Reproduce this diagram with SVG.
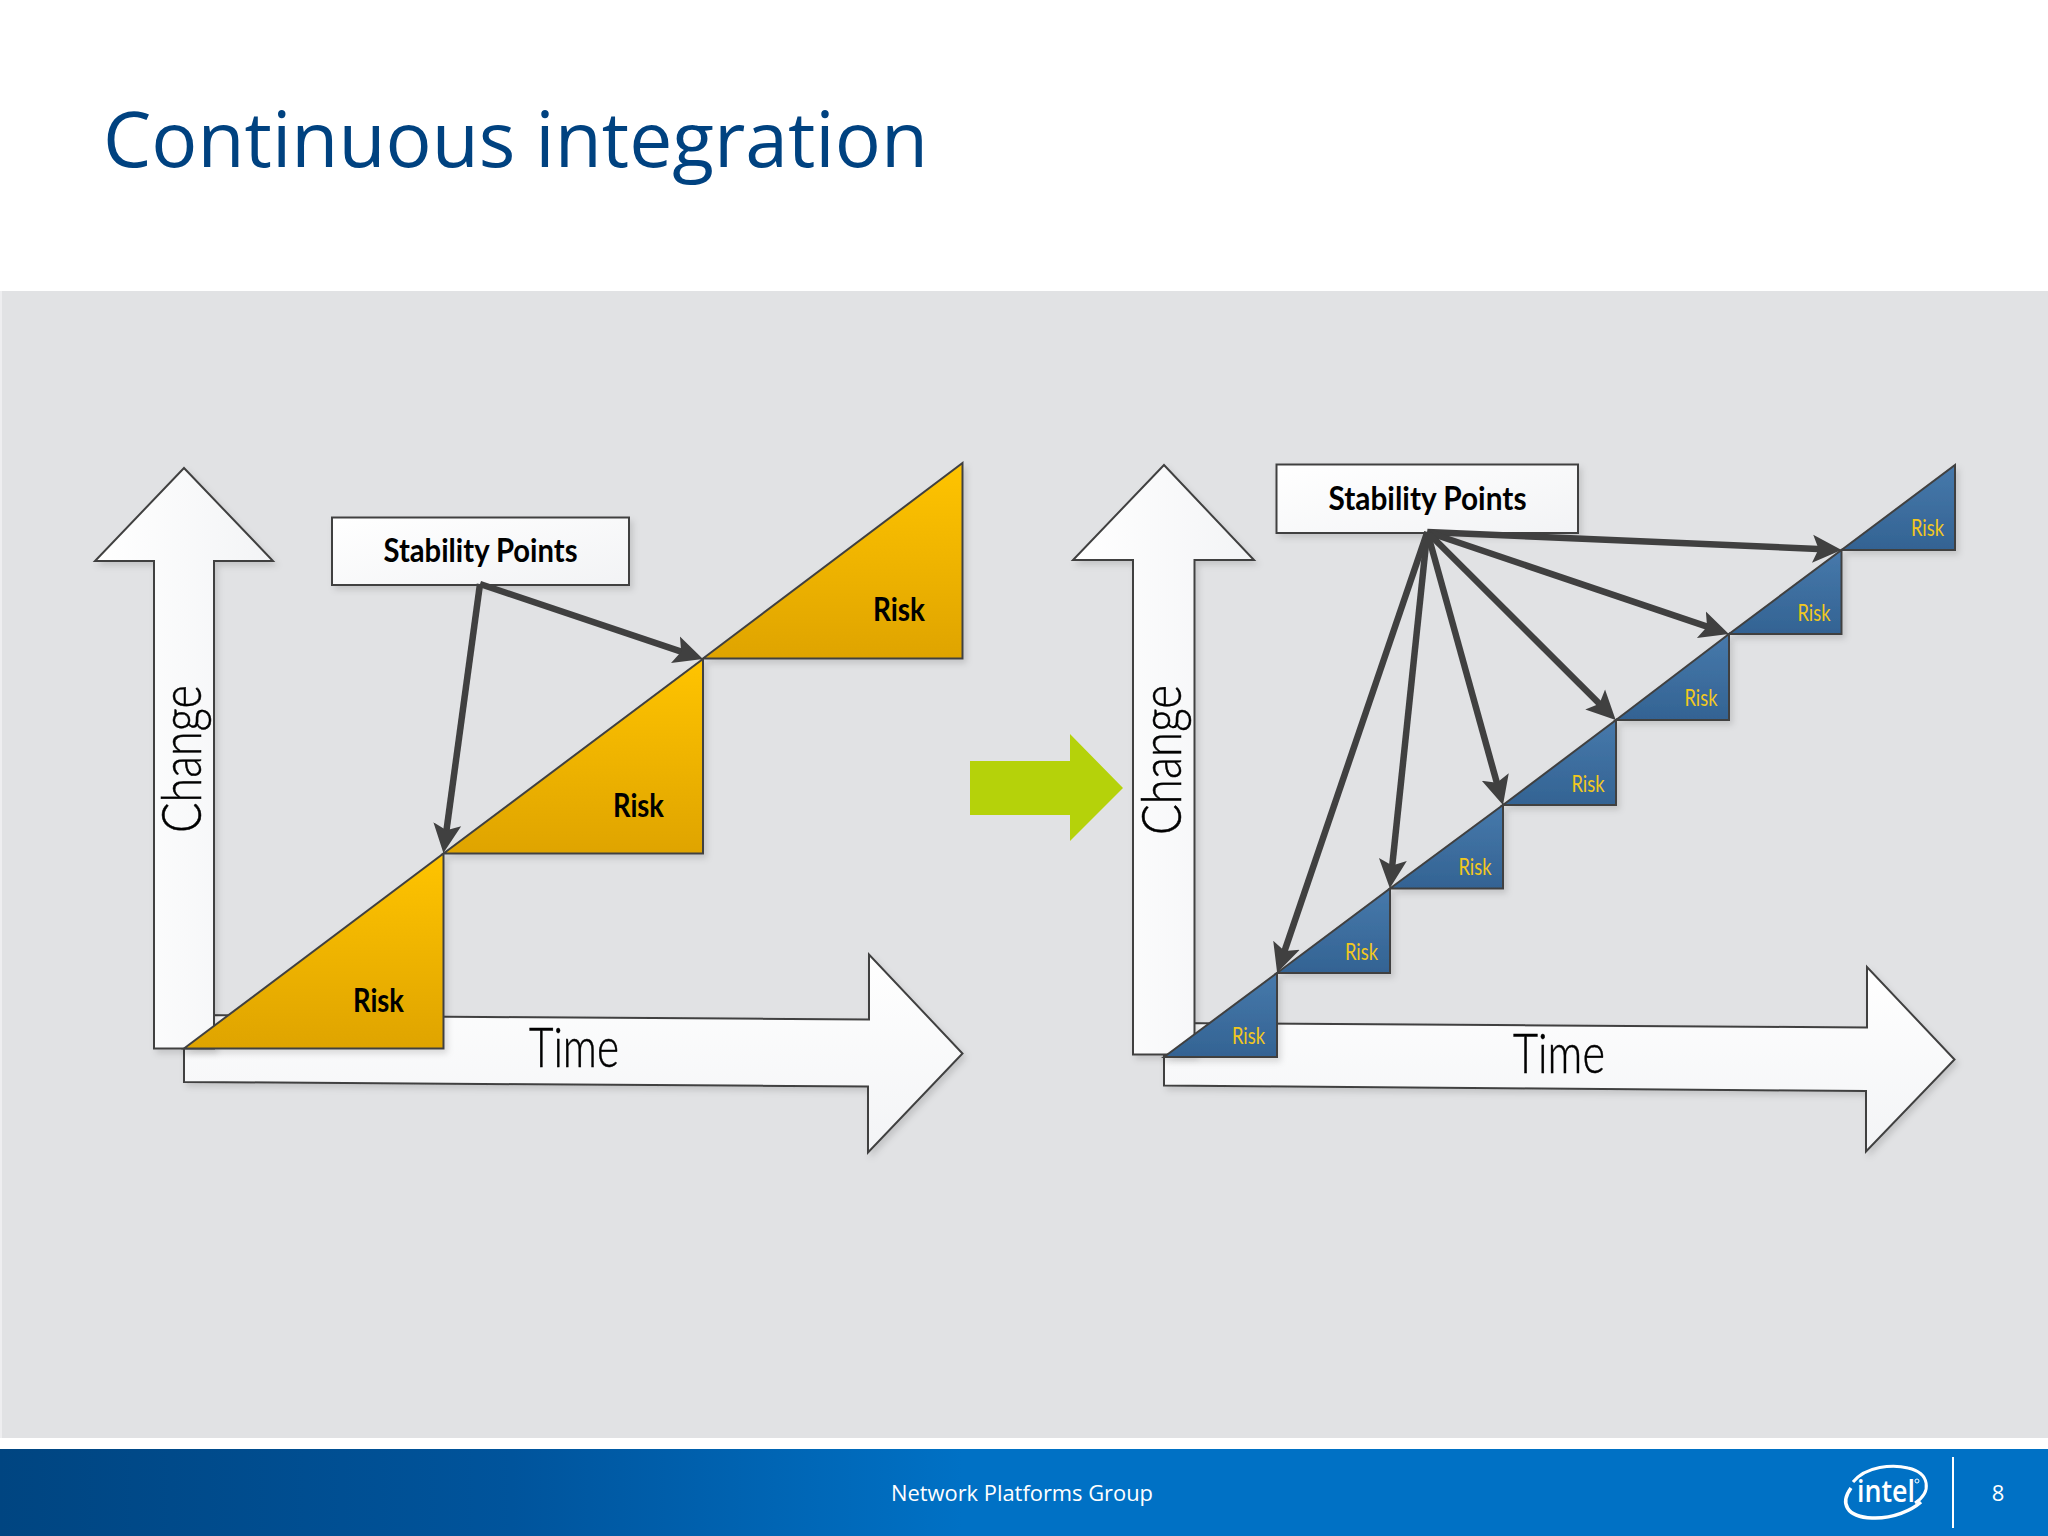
<svg xmlns="http://www.w3.org/2000/svg" width="2048" height="1536" viewBox="0 0 2048 1536">
<style>
.ax{fill:url(#axv);stroke:#404040;stroke-width:2;stroke-linejoin:miter;filter:url(#sh)}
.axh{fill:url(#axh);stroke:#404040;stroke-width:2;filter:url(#sh)}
.box{fill:url(#boxg);stroke:#404040;stroke-width:2;filter:url(#sh)}
.tri-o{fill:url(#org);stroke:#404040;stroke-width:2;stroke-linejoin:miter;filter:url(#sh)}
.tri-b{fill:url(#blu);stroke:#404040;stroke-width:2;stroke-linejoin:miter;filter:url(#sh)}
.lbl{font-family:"Lato","Open Sans","Liberation Sans",sans-serif;fill:#000}
.big{font-size:56px;font-weight:300;stroke:#000;stroke-width:.5}
.sp{font-size:32px;font-weight:700}
.rk{font-size:32px;font-weight:700}
.rs{font-family:"Lato","Open Sans","Liberation Sans",sans-serif;font-size:23px;fill:#f2c81e}
.cn{fill:none;stroke:#404040;stroke-width:6.5;marker-end:url(#ah)}
.ftr{font-family:"Open Sans","Noto Sans","Liberation Sans",sans-serif;fill:#fff}
</style>
<defs>
<linearGradient id="axv" x1="0" y1="0" x2="1" y2="0"><stop offset="0" stop-color="#fff"/><stop offset="1" stop-color="#f3f4f6"/></linearGradient>
<linearGradient id="axh" x1="0" y1="0" x2="0" y2="1"><stop offset="0" stop-color="#fff"/><stop offset="1" stop-color="#f3f4f6"/></linearGradient>
<linearGradient id="boxg" x1="0" y1="0" x2="1" y2="1"><stop offset="0" stop-color="#fff"/><stop offset="1" stop-color="#f2f3f5"/></linearGradient>
<linearGradient id="org" x1="0" y1="0" x2="0" y2="1"><stop offset="0" stop-color="#ffc400"/><stop offset="1" stop-color="#dfa400"/></linearGradient>
<linearGradient id="blu" x1="0" y1="0" x2="0" y2="1"><stop offset="0" stop-color="#4779ab"/><stop offset="1" stop-color="#336393"/></linearGradient>
<linearGradient id="foot" x1="0" y1="0" x2="1" y2="0"><stop offset="0" stop-color="#004581"/><stop offset="0.25" stop-color="#00549c"/><stop offset="0.47" stop-color="#0071c5"/><stop offset="1" stop-color="#0071c5"/></linearGradient>
<filter id="sh" x="-10%" y="-10%" width="125%" height="125%"><feDropShadow dx="3" dy="4" stdDeviation="3" flood-color="#000" flood-opacity="0.13"/></filter>
<marker id="ah" markerUnits="userSpaceOnUse" markerWidth="36" markerHeight="36" viewBox="0 0 36 36" refX="17" refY="18" orient="auto"><path d="M0 4 L29 18 L0 32 L6 18 Z" fill="#404040"/></marker>
</defs>

<rect width="2048" height="1536" fill="#fff"/>
<text x="103" y="167" font-family="'Open Sans','Noto Sans','Liberation Sans',sans-serif" font-size="76" fill="#004280" textLength="825" lengthAdjust="spacingAndGlyphs">Continuous integration</text>
<rect id="panel" x="0" y="291" width="2048" height="1147" fill="#e1e2e4"/>
<rect x="0" y="291" width="2" height="1147" fill="#eeeef0"/>

<g id="left-time-axis"><path class="axh" d="M184 1015 L869 1019.5 L869 954.5 L962.5 1053.5 L868 1152.5 L868 1086.5 L184 1082 Z"/><text class="lbl big" x="529" y="1067" textLength="90" lengthAdjust="spacingAndGlyphs">Time</text></g>
<g id="left-change-axis"><path class="ax" d="M184 468 L273 561 L214 561 L214 1048.5 L154 1048.5 L154 561 L95 561 Z"/><text class="lbl big" transform="translate(201 833) rotate(-90)" textLength="148" lengthAdjust="spacingAndGlyphs">Change</text></g>
<g id="left-risk-1"><path class="tri-o" d="M184 1048.5 L443.5 853.5 L443.5 1048.5 Z"/><text class="lbl rk" x="353" y="1011.5" textLength="51" lengthAdjust="spacingAndGlyphs">Risk</text></g>
<g id="left-risk-2"><path class="tri-o" d="M443.5 853.5 L703 659 L703 853.5 Z"/><text class="lbl rk" x="613" y="816.5" textLength="51" lengthAdjust="spacingAndGlyphs">Risk</text></g>
<g id="left-risk-3"><path class="tri-o" d="M703 658.5 L962.5 463 L962.5 658.5 Z"/><text class="lbl rk" x="873" y="620.5" textLength="52" lengthAdjust="spacingAndGlyphs">Risk</text></g>
<g id="left-stability"><rect class="box" x="332" y="517.5" width="297" height="67.5"/><text class="lbl sp" x="383.5" y="562" textLength="194" lengthAdjust="spacingAndGlyphs">Stability Points</text></g>

<g id="shift-arrow"><path d="M970 761 L1070 761 L1070 734 L1123 788 L1070 841 L1070 815 L970 815 Z" fill="#b5d20a"/></g>

<g id="right-time-axis"><path class="axh" d="M1164 1023 L1867 1027.5 L1867 967 L1954.5 1059.5 L1866 1151.5 L1866 1091 L1164 1085.5 Z"/><text class="lbl big" x="1513" y="1073" textLength="92" lengthAdjust="spacingAndGlyphs">Time</text></g>
<g id="right-change-axis"><path class="ax" d="M1164 465 L1254 560 L1194.5 560 L1194.5 1054.5 L1133 1054.5 L1133 560 L1073 560 Z"/><text class="lbl big" transform="translate(1181 835) rotate(-90)" textLength="150" lengthAdjust="spacingAndGlyphs">Change</text></g>
<g id="right-risk-1"><path class="tri-b" d="M1164 1057 L1277 973 L1277 1057 Z"/><text class="rs" x="1232" y="1044" textLength="33" lengthAdjust="spacingAndGlyphs">Risk</text></g>
<g id="right-risk-2"><path class="tri-b" d="M1277 973 L1390 888.5 L1390 973 Z"/><text class="rs" x="1345" y="960" textLength="33" lengthAdjust="spacingAndGlyphs">Risk</text></g>
<g id="right-risk-3"><path class="tri-b" d="M1390 888.5 L1503 805 L1503 888.5 Z"/><text class="rs" x="1458.5" y="875" textLength="33" lengthAdjust="spacingAndGlyphs">Risk</text></g>
<g id="right-risk-4"><path class="tri-b" d="M1503 805 L1616 720 L1616 805 Z"/><text class="rs" x="1571.5" y="791.5" textLength="33" lengthAdjust="spacingAndGlyphs">Risk</text></g>
<g id="right-risk-5"><path class="tri-b" d="M1616 720 L1729 634 L1729 720 Z"/><text class="rs" x="1684.5" y="706" textLength="33" lengthAdjust="spacingAndGlyphs">Risk</text></g>
<g id="right-risk-6"><path class="tri-b" d="M1729 634 L1841.5 550 L1841.5 634 Z"/><text class="rs" x="1797.5" y="620.5" textLength="33" lengthAdjust="spacingAndGlyphs">Risk</text></g>
<g id="right-risk-7"><path class="tri-b" d="M1841.5 550 L1955 465 L1955 550 Z"/><text class="rs" x="1911" y="536" textLength="33" lengthAdjust="spacingAndGlyphs">Risk</text></g>
<g id="right-stability"><rect class="box" x="1276.5" y="464.5" width="301.5" height="68.5"/><text class="lbl sp" x="1328.5" y="510" textLength="198" lengthAdjust="spacingAndGlyphs">Stability Points</text></g>

<g id="connectors">
<line class="cn" x1="480" y1="584" x2="691.6" y2="655.2"/>
<line class="cn" x1="480" y1="584" x2="445" y2="841.1"/>
<line class="cn" x1="1427.3" y1="532" x2="1829.6" y2="549.5"/>
<line class="cn" x1="1427.3" y1="532" x2="1717.5" y2="630.2"/>
<line class="cn" x1="1427.3" y1="532" x2="1607.2" y2="711.5"/>
<line class="cn" x1="1427.3" y1="532" x2="1499.8" y2="793.4"/>
<line class="cn" x1="1427.3" y1="532" x2="1391.1" y2="876.4"/>
<line class="cn" x1="1427.3" y1="532" x2="1281" y2="961.4"/>
</g>

<g id="footer">
<rect x="0" y="1449" width="2048" height="87" fill="url(#foot)"/>
<text class="ftr" x="891" y="1501" font-size="22" textLength="262" lengthAdjust="spacingAndGlyphs">Network Platforms Group</text>
<rect x="1952" y="1457" width="2" height="71" fill="#fff"/>
<text class="ftr" x="1998" y="1501" font-size="22" text-anchor="middle">8</text>
<g id="intel-logo">
<path d="M1853 1482 C1866 1466 1893 1464 1908 1468 C1930 1473 1932 1492 1915 1503" fill="none" stroke="#fff" stroke-width="3"/>
<path d="M1851 1488 C1840 1503 1846 1517 1872 1518 C1893 1519 1912 1510 1921 1502" fill="none" stroke="#fff" stroke-width="3.5"/>
<text x="1857" y="1502" font-family="'Open Sans','Liberation Sans',sans-serif" font-weight="600" font-size="31" fill="#fff" textLength="58" lengthAdjust="spacingAndGlyphs">intel</text>
<circle cx="1917" cy="1481" r="2" fill="none" stroke="#fff" stroke-width="1"/>
</g>
</g>
</svg>
